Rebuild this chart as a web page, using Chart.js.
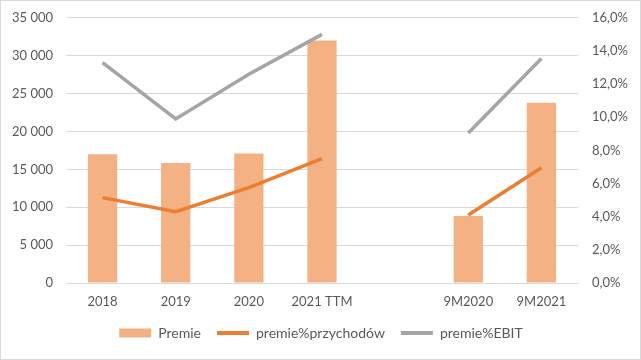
<!DOCTYPE html>
<html>
<head>
<meta charset="utf-8">
<script src="https://cdn.jsdelivr.net/npm/chart.js@4"></script>
<style>
  html, body { margin: 0; padding: 0; background: #fff; }
  #wrap { width: 641px; height: 360px; box-sizing: border-box; border: 1px solid #d9d9d9; position: relative; overflow: hidden; }
  #inner { position: absolute; left: 0; top: -5px; width: 639px; height: 363px; }
</style>
</head>
<body>
<div id="wrap"><div id="inner"><canvas id="chart"></canvas></div></div>
<script>
// data
const categories = ['2018', '2019', '2020', '2021 TTM', '', '9M2020', '9M2021'];
const premie = [17000, 15850, 17100, 32000, null, 8850, 23800];
const premiePrzychodow = [5.15, 4.3, 5.75, 7.5, null, 4.1, 6.95];
const premieEbit = [13.3, 9.9, 12.6, 15.0, null, 9.05, 13.55];

Chart.defaults.font.family = 'Lato, "Liberation Sans", sans-serif';
Chart.defaults.font.size = 13;
Chart.defaults.color = '#595959';

const ctx = document.getElementById('chart').getContext('2d');
new Chart(ctx, {
    data: {
        labels: categories,
        datasets: [
            {
                type: 'bar',
                label: 'Premie',
                data: premie,
                backgroundColor: '#F4B183',
                yAxisID: 'y',
                categoryPercentage: 1,
                barPercentage: 0.4,
                order: 3
            },
            {
                type: 'line',
                label: 'premie%przychodów',
                data: premiePrzychodow,
                borderColor: '#ED7D31',
                backgroundColor: '#ED7D31',
                borderWidth: 3.5,
                pointRadius: 0,
                tension: 0,
                spanGaps: false,
                yAxisID: 'y1',
                order: 2
            },
            {
                type: 'line',
                label: 'premie%EBIT',
                data: premieEbit,
                borderColor: '#A5A5A5',
                backgroundColor: '#A5A5A5',
                borderWidth: 3.5,
                pointRadius: 0,
                tension: 0,
                spanGaps: false,
                yAxisID: 'y1',
                order: 1
            }
        ]
    },
    options: {
        responsive: true,
        maintainAspectRatio: false,
        animation: false,
        layout: { autoPadding: false, padding: { top: 16, left: 1, right: 0, bottom: 9 } },
        plugins: {
            tooltip: { enabled: false },
            legend: {
                position: 'bottom',
                labels: {
                    usePointStyle: true,
                    pointStyleWidth: 32,
                    boxHeight: 9,
                    padding: 16,
                    color: '#595959',
                    font: { size: 14 },
                    sort: (a, b) => a.datasetIndex - b.datasetIndex,
                    generateLabels(chart) {
                        const items = Chart.defaults.plugins.legend.labels.generateLabels(chart);
                        items.forEach(item => {
                            if (item.datasetIndex === 0) {
                                item.pointStyle = 'rect';
                                item.lineWidth = 0;
                            } else {
                                item.pointStyle = 'line';
                                item.lineWidth = 4;
                            }
                        });
                        return items;
                    }
                }
            }
        },
        scales: {
            x: {
                offset: true,
                grid: { display: false, drawTicks: false },
                border: { display: false },
                ticks: { padding: 11, maxRotation: 0, autoSkip: false },
                afterFit(scale) { scale.height = 27; }
            },
            y: {
                position: 'left',
                min: 0,
                max: 35000,
                grid: { color: '#D9D9D9', drawTicks: false },
                border: { display: false },
                ticks: {
                    stepSize: 5000,
                    padding: 13,
                    callback: v => v.toString().replace(/\B(?=(\d{3})+(?!\d))/g, ' ')
                },
                afterFit(scale) { scale.width = 64; }
            },
            y1: {
                position: 'right',
                min: 0,
                max: 16,
                grid: { display: false, drawTicks: false },
                border: { display: false },
                ticks: {
                    stepSize: 2,
                    padding: 14,
                    callback: v => v.toFixed(1).replace('.', ',') + '%'
                },
                afterFit(scale) { scale.width = 62; }
            }
        }
    }
});
</script>
</body>
</html>
